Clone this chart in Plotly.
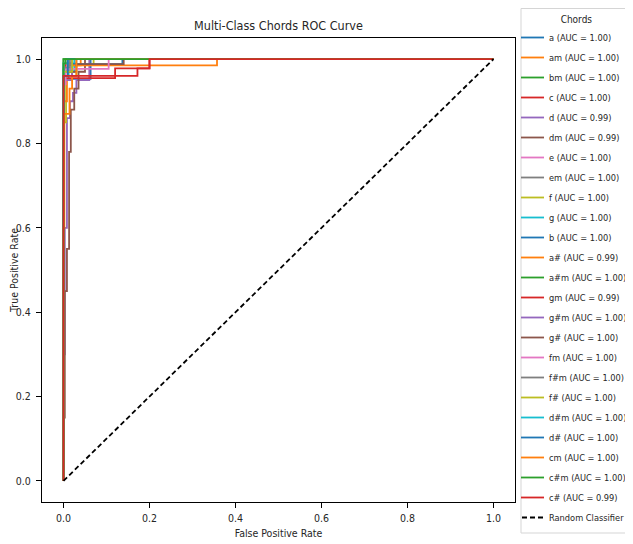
import plotly.graph_objects as go

CLASSES = ["a", "am", "bm", "c", "d", "dm", "e", "em", "f", "g", "b", "a#",
           "a#m", "gm", "g#m", "g#", "fm", "f#m", "f#", "d#m", "d#", "cm", "c#m", "c#"]
AUC = [1.00, 1.00, 1.00, 1.00, 0.99, 0.99, 1.00, 1.00, 1.00, 1.00, 1.00, 0.99,
       1.00, 0.99, 1.00, 1.00, 1.00, 1.00, 1.00, 1.00, 1.00, 1.00, 1.00, 0.99]

FPR = [
    [0, 0, 0.063, 0.063, 1],                                   # a
    [0, 0, 0.01, 0.01, 0.04, 0.04, 1],                         # am
    [0, 0, 1],                                                 # bm
    [0, 0, 0.005, 0.005, 0.02, 0.02, 1],                       # c
    [0, 0, 0.003, 0.003, 0.008, 0.008, 0.015, 0.015, 0.022, 0.022, 0.03, 0.03, 0.06, 0.06, 1],  # d
    [0, 0, 0.003, 0.003, 0.008, 0.008, 0.013, 0.013, 0.017, 0.017, 0.025, 0.025, 0.035, 0.035, 0.05, 0.05, 1],  # dm
    [0, 0, 0.01, 0.01, 1],                                     # e
    [0, 0, 0.01, 0.01, 0.03, 0.03, 1],                         # em
    [0, 0, 0.006, 0.006, 0.03, 0.03, 0.07, 0.07, 1],           # f
    [0, 0, 0.012, 0.012, 0.025, 0.025, 1],                     # g
    [0, 0, 0.02, 0.02, 0.137, 0.137, 1],                       # b
    [0, 0, 0.008, 0.008, 0.02, 0.02, 0.357, 0.357, 1],         # a#
    [0, 0, 1],                                                 # a#m
    [0, 0, 0.12, 0.12, 0.2, 0.2, 1],                           # gm
    [0, 0, 0.02, 0.02, 1],                                     # g#m
    [0, 0, 0.03, 0.03, 0.14, 0.14, 1],                         # g#
    [0, 0, 0.005, 0.005, 0.105, 0.105, 1],                     # fm
    [0, 0, 0.015, 0.015, 1],                                   # f#m
    [0, 0, 0.02, 0.02, 1],                                     # f#
    [0, 0, 0.01, 0.01, 1],                                     # d#m
    [0, 0, 0.01, 0.01, 1],                                     # d#
    [0, 0, 0.002, 0.002, 0.014, 0.014, 0.02, 0.02, 0.03, 0.03, 1],  # cm
    [0, 0, 0.005, 0.005, 1],                                   # c#m
    [0, 0, 0.172, 0.172, 0.2, 0.2, 1],                         # c#
]
TPR = [
    [0, 0.953, 0.953, 1, 1],
    [0, 0.96, 0.96, 0.985, 0.985, 1, 1],
    [0, 1, 1],
    [0, 0.97, 0.97, 0.99, 0.99, 1, 1],
    [0, 0.3, 0.3, 0.6, 0.6, 0.86, 0.86, 0.9, 0.9, 0.92, 0.92, 0.95, 0.95, 1, 1],
    [0, 0.15, 0.15, 0.45, 0.45, 0.55, 0.55, 0.78, 0.78, 0.88, 0.88, 0.93, 0.93, 0.97, 0.97, 1, 1],
    [0, 0.98, 0.98, 1, 1],
    [0, 0.96, 0.96, 0.99, 0.99, 1, 1],
    [0, 0.85, 0.85, 0.96, 0.96, 0.986, 0.986, 1, 1],
    [0, 0.95, 0.95, 0.97, 0.97, 1, 1],
    [0, 0.975, 0.975, 0.988, 0.988, 1, 1],
    [0, 0.9, 0.9, 0.95, 0.95, 0.985, 0.985, 1, 1],
    [0, 1, 1],
    [0, 0.955, 0.955, 0.978, 0.978, 1, 1],
    [0, 0.95, 0.95, 1, 1],
    [0, 0.97, 0.97, 0.988, 0.988, 1, 1],
    [0, 0.94, 0.94, 0.977, 0.977, 1, 1],
    [0, 0.98, 0.98, 1, 1],
    [0, 0.97, 0.97, 1, 1],
    [0, 0.99, 0.99, 1, 1],
    [0, 0.96, 0.96, 1, 1],
    [0, 0.6, 0.6, 0.87, 0.87, 0.93, 0.93, 0.96, 0.96, 1, 1],
    [0, 0.99, 0.99, 1, 1],
    [0, 0.96, 0.96, 0.978, 0.978, 1, 1],
]

RANDOM_X = [0, 1]
RANDOM_Y = [0, 1]
TICKS = [0.0, 0.2, 0.4, 0.6, 0.8, 1.0]

COLORS = ["#1f77b4", "#ff7f0e", "#2ca02c", "#d62728", "#9467bd",
          "#8c564b", "#e377c2", "#7f7f7f", "#bcbd22", "#17becf"]

FONT = "DejaVu Sans Condensed, DejaVu Sans, sans-serif"
TXT = "#262626"

# the page body has an 8px margin, so the figure is sized 8px smaller
W, H = 625, 536
L, R, T, B = 34, 118, 30, 42
PH = H - T - B
PW = W - L - R


def px_x(fx):
    return (fx - L) / PW


def px_y(fy):
    return (H - B - fy) / PH


fig = go.Figure()
for i, name in enumerate(CLASSES):
    fig.add_trace(go.Scatter(
        x=FPR[i], y=TPR[i], mode="lines",
        name=f"{name} (AUC = {AUC[i]:.2f})",
        legendgroup=f"g{i}",
        line=dict(color=COLORS[i % 10], width=1.8),
    ))
fig.add_trace(go.Scatter(
    x=RANDOM_X, y=RANDOM_Y, mode="lines", name="Random Classifier",
    legendgroup="rand",
    line=dict(color="black", width=1.8, dash="5px,3px"),
))

axis_common = dict(
    range=[-0.05, 1.05], tickvals=TICKS, ticktext=[f"{t:.1f}" for t in TICKS],
    showline=True, linecolor="black", linewidth=1, mirror=True,
    ticks="outside", ticklen=5, tickcolor="black", showgrid=False, zeroline=False,
    tickfont=dict(family=FONT, size=10.5, color=TXT),
)

# legend frame (drawn as a shape so it can reach the figure's right edge)
fig.add_shape(type="rect", xref="paper", yref="paper",
              x0=px_x(513), x1=px_x(624), y0=px_y(525), y1=px_y(0.5),
              line=dict(color="#d5d5d5", width=1), fillcolor="rgba(0,0,0,0)")

fig.update_layout(
    width=W, height=H,
    margin=dict(l=L, r=R, t=T, b=B, autoexpand=False),
    paper_bgcolor="white", plot_bgcolor="white",
    title=dict(text="Multi-Class Chords ROC Curve", x=(L + W - R) / 2 / W, xanchor="center",
               y=1 - 18 / H, yanchor="middle",
               font=dict(family=FONT, size=12.5, color=TXT)),
    xaxis=dict(axis_common, ticklabelstandoff=1,
               title=dict(text="False Positive Rate", standoff=7,
                          font=dict(family=FONT, size=10.5, color=TXT))),
    yaxis=dict(axis_common, ticklabelstandoff=3,
               title=dict(text="True Positive Rate", standoff=1,
                          font=dict(family=FONT, size=10.5, color=TXT))),
    legend=dict(
        title=dict(text="Chords", side="top center", font=dict(family=FONT, size=10, color=TXT)),
        x=px_x(513), xanchor="left", y=px_y(2), yanchor="top",
        traceorder="grouped", tracegroupgap=1, maxheight=H, itemwidth=30,
        indentation=-12,
        borderwidth=0, bgcolor="rgba(0,0,0,0)",
        font=dict(family=FONT, size=9.2, color=TXT),
    ),
)

fig.write_html("out.html")
